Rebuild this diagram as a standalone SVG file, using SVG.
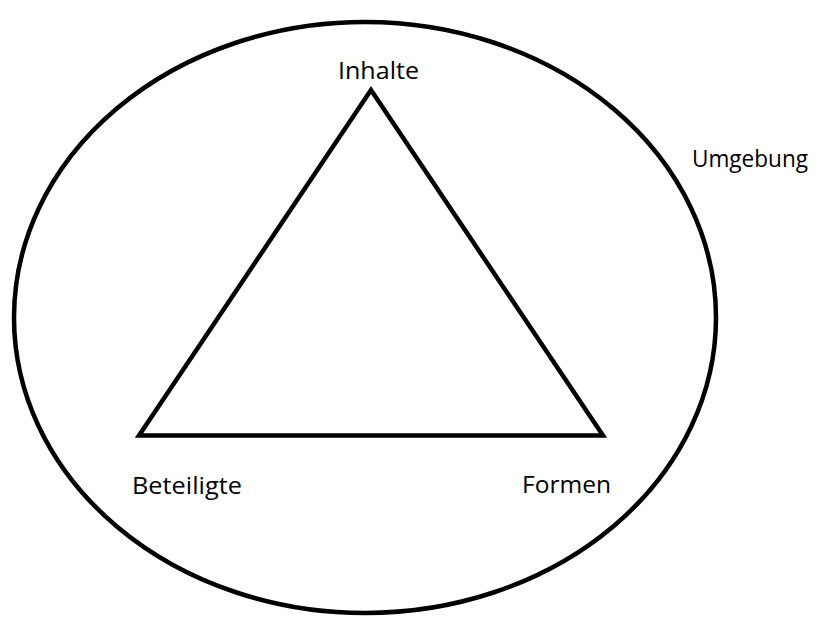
<svg xmlns="http://www.w3.org/2000/svg" width="818" height="617" viewBox="0 0 818 617">
<style>
.shape{fill:none;stroke:#000;stroke-width:4.5;stroke-linejoin:miter}
.lbl{font-family:"Open Sans","Liberation Sans",sans-serif;font-size:24px;fill:#000}
</style>
<rect width="818" height="617" fill="#fff"/>
<g id="umgebung">
<ellipse class="shape" cx="365" cy="317.5" rx="351" ry="295.5"/>
<text class="lbl" x="692" y="167" textLength="116" lengthAdjust="spacingAndGlyphs">Umgebung</text>
</g>
<g id="dreieck">
<polygon class="shape" points="371,90 139,435.5 603,435.5"/>
</g>
<g id="inhalte">
<text class="lbl" x="338" y="79" textLength="81" lengthAdjust="spacingAndGlyphs">Inhalte</text>
</g>
<g id="beteiligte">
<text class="lbl" x="132" y="494" textLength="110" lengthAdjust="spacingAndGlyphs">Beteiligte</text>
</g>
<g id="formen">
<text class="lbl" x="522" y="493" textLength="89" lengthAdjust="spacingAndGlyphs">Formen</text>
</g>
</svg>
